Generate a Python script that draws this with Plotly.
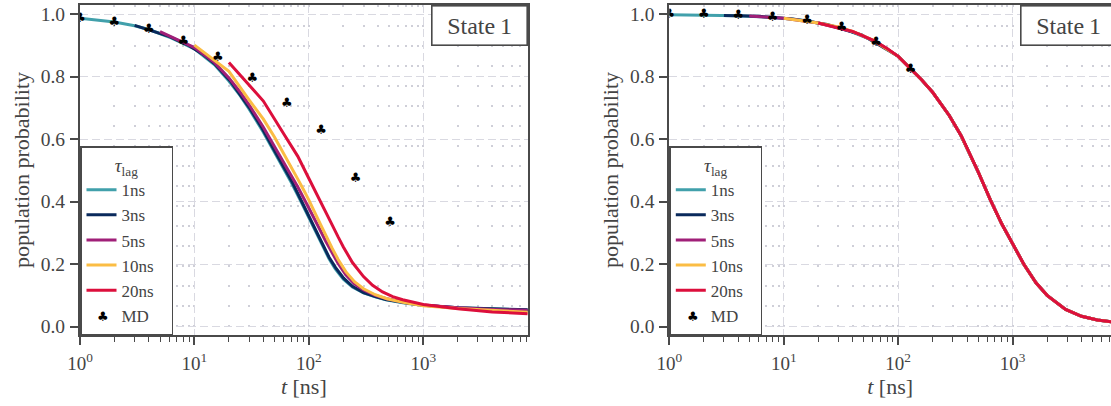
import plotly.graph_objects as go

# ---------------------------------------------------------------------------
# Data: implied population of state 1 for several MSM lag times, plus MD
# ---------------------------------------------------------------------------
LAG_NAMES = ["1ns", "3ns", "5ns", "10ns", "20ns"]
LAG_COLORS = ["#41a0ab", "#0a2a5c", "#a01f78", "#fbbd44", "#dc0f3c"]

# Panel (a)
a_t_1ns = [1, 2, 3, 4, 6, 8, 10, 15, 20, 25, 30, 40, 50, 60, 70, 84, 95, 108, 122,
           135, 150, 170, 200, 240, 300, 380, 470, 700, 1000, 2000, 4000, 8192]
a_p_1ns = [0.987, 0.975, 0.963, 0.951, 0.927, 0.905, 0.889, 0.838, 0.786, 0.740,
           0.697, 0.622, 0.560, 0.508, 0.462, 0.405, 0.365, 0.320, 0.280, 0.248,
           0.217, 0.185, 0.152, 0.127, 0.108, 0.095, 0.086, 0.075, 0.068, 0.060,
           0.056, 0.053]

a_t_3ns = [3, 6, 9, 12, 15, 21, 30, 39, 51, 60, 72, 84, 96, 108, 123, 135, 150, 171,
           201, 240, 300, 381, 471, 702, 1002, 2001, 4002, 8190]
a_p_3ns = [0.964, 0.929, 0.899, 0.870, 0.841, 0.782, 0.702, 0.635, 0.558, 0.513,
           0.460, 0.410, 0.367, 0.326, 0.283, 0.253, 0.222, 0.189, 0.155, 0.129,
           0.109, 0.096, 0.087, 0.076, 0.068, 0.060, 0.056, 0.054]

a_t_5ns = [5, 10, 15, 20, 25, 30, 40, 50, 60, 70, 80, 95, 110, 125, 140, 160, 180,
           210, 250, 300, 380, 480, 700, 1000, 2000, 4000, 8190]
a_p_5ns = [0.944, 0.893, 0.845, 0.796, 0.751, 0.710, 0.638, 0.578, 0.528, 0.485,
           0.447, 0.395, 0.352, 0.310, 0.274, 0.233, 0.202, 0.166, 0.137, 0.117,
           0.100, 0.089, 0.077, 0.069, 0.060, 0.055, 0.052]

a_t_10ns = [10, 20, 30, 40, 50, 60, 70, 80, 90, 100, 120, 140, 160, 180, 210, 250,
            300, 380, 480, 700, 1000, 2000, 4000, 8190]
a_p_10ns = [0.901, 0.817, 0.726, 0.664, 0.607, 0.556, 0.512, 0.472, 0.437, 0.405,
            0.344, 0.292, 0.250, 0.215, 0.176, 0.144, 0.121, 0.102, 0.089, 0.076,
            0.067, 0.058, 0.051, 0.046]

a_t_20ns = [20, 40, 60, 80, 100, 120, 140, 160, 180, 200, 240, 300, 360, 440, 540,
            660, 1000, 2000, 4000, 8180]
a_p_20ns = [0.845, 0.722, 0.618, 0.545, 0.474, 0.418, 0.368, 0.325, 0.287, 0.255,
            0.205, 0.160, 0.132, 0.111, 0.096, 0.086, 0.071, 0.057, 0.047, 0.041]

a_md_t = [1, 2, 4, 8, 16, 32, 64, 128, 256, 512]
a_md_p = [0.987, 0.974, 0.949, 0.912, 0.862, 0.793, 0.712, 0.626, 0.473, 0.331]

# Panel (b): all lag times collapse onto one curve
b_t_1ns = [1, 2, 4, 8, 16, 32, 64, 100, 128, 160, 200, 280, 350, 420, 500, 640, 800,
           1000, 1250, 1600, 2000, 2900, 4000, 5500, 8192]
b_p_1ns = [0.998, 0.997, 0.995, 0.990, 0.979, 0.956, 0.912, 0.865, 0.825, 0.790,
           0.750, 0.675, 0.615, 0.555, 0.495, 0.405, 0.330, 0.265, 0.200, 0.140,
           0.100, 0.055, 0.033, 0.021, 0.013]

b_t_3ns = [3, 6, 12, 24, 48, 99, 129, 159, 201, 279, 351, 420, 501, 639, 801, 999,
           1251, 1599, 2001, 2901, 3999, 5502, 8190]
b_p_3ns = [0.996, 0.993, 0.985, 0.967, 0.934, 0.866, 0.824, 0.791, 0.749, 0.676,
           0.614, 0.555, 0.494, 0.406, 0.329, 0.265, 0.200, 0.140, 0.100, 0.055,
           0.033, 0.021, 0.013]

b_t_5ns = [5, 10, 20, 40, 65, 100, 130, 160, 200, 280, 350, 420, 500, 640, 800, 1000,
           1250, 1600, 2000, 2900, 4000, 5500, 8190]
b_p_5ns = [0.994, 0.987, 0.972, 0.944, 0.911, 0.865, 0.823, 0.790, 0.750, 0.675,
           0.615, 0.555, 0.495, 0.405, 0.330, 0.265, 0.200, 0.140, 0.100, 0.055,
           0.033, 0.021, 0.013]

b_t_10ns = [10, 20, 30, 40, 60, 100, 130, 160, 200, 280, 350, 420, 500, 640, 800,
            1000, 1250, 1600, 2000, 2900, 4000, 5500, 8190]
b_p_10ns = [0.987, 0.972, 0.959, 0.945, 0.917, 0.865, 0.823, 0.790, 0.750, 0.675,
            0.615, 0.555, 0.495, 0.405, 0.330, 0.265, 0.200, 0.140, 0.100, 0.055,
            0.033, 0.021, 0.013]

b_t_20ns = [20, 40, 60, 80, 100, 140, 160, 200, 280, 360, 420, 500, 640, 800, 1000,
            1260, 1600, 2000, 2900, 4000, 5500, 8180]
b_p_20ns = [0.972, 0.945, 0.917, 0.890, 0.865, 0.813, 0.790, 0.750, 0.675, 0.607,
            0.555, 0.495, 0.405, 0.330, 0.265, 0.198, 0.140, 0.100, 0.055, 0.033,
            0.021, 0.013]

b_md_t = [1, 2, 4, 8, 16, 32, 64, 128]
b_md_p = [0.997, 0.997, 0.994, 0.989, 0.978, 0.955, 0.910, 0.821]

X_TICKS = [1, 10, 100, 1000]
X_TICKTEXT = ["10<sup>0</sup>", "10<sup>1</sup>", "10<sup>2</sup>", "10<sup>3</sup>"]
Y_TICKS = [0.0, 0.2, 0.4, 0.6, 0.8, 1.0]

# ---------------------------------------------------------------------------
# Styling
# ---------------------------------------------------------------------------
W, H = 1111, 406
SERIF = "Liberation Serif"
AX = "#4a4a4a"
TXT = "#444444"
GRID = "#d9d9e1"
DOT = "#cfcfd8"
PAD = "\u00a0" * 3  # widens the legend box a little

panels = [
    dict(xa="x", ya="y", legend="legend",
         series=[(a_t_1ns, a_p_1ns), (a_t_3ns, a_p_3ns), (a_t_5ns, a_p_5ns),
                 (a_t_10ns, a_p_10ns), (a_t_20ns, a_p_20ns)],
         md=(a_md_t, a_md_p)),
    dict(xa="x2", ya="y2", legend="legend2",
         series=[(b_t_1ns, b_p_1ns), (b_t_3ns, b_p_3ns), (b_t_5ns, b_p_5ns),
                 (b_t_10ns, b_p_10ns), (b_t_20ns, b_p_20ns)],
         md=(b_md_t, b_md_p)),
]

fig = go.Figure()
for pnl in panels:
    for name, color, (tt, pp) in zip(LAG_NAMES, LAG_COLORS, pnl["series"]):
        fig.add_trace(go.Scatter(
            x=tt, y=pp, mode="lines", name=name + PAD,
            line=dict(color=color, width=3),
            xaxis=pnl["xa"], yaxis=pnl["ya"], legend=pnl["legend"]))
    # MD reference points, drawn as club glyphs
    fig.add_trace(go.Scatter(
        x=pnl["md"][0], y=pnl["md"][1], mode="text", text=["\u2663"] * len(pnl["md"][0]),
        textposition="middle center",
        textfont=dict(family="DejaVu Sans", size=13, color="black"),
        showlegend=False, xaxis=pnl["xa"], yaxis=pnl["ya"]))
    # legend entry for the MD points (glyph added as annotation below)
    fig.add_trace(go.Scatter(
        x=[None], y=[None], mode="markers", name="MD" + PAD,
        marker=dict(color="rgba(0,0,0,0)", size=8),
        xaxis=pnl["xa"], yaxis=pnl["ya"], legend=pnl["legend"]))

px_decade = 114.45
left_x0, right_x0 = 80.0, 669.3
y_dom = [1 - 335 / H, 1 - 5 / H]
y_rng = [-0.0269, 1.0294]


def xaxis_cfg(x0, x1_px, anchor):
    return dict(
        type="log", domain=[x0 / W, min(x1_px, W) / W],
        range=[0, (min(x1_px, W) - x0) / px_decade], anchor=anchor,
        automargin=False,
        showline=True, linecolor=AX, linewidth=2, mirror=True,
        ticks="outside", ticklen=8, tickwidth=1.5, tickcolor=AX,
        tickvals=X_TICKS, ticktext=X_TICKTEXT, ticklabelstandoff=2,
        tickfont=dict(family=SERIF, size=19, color=TXT),
        showgrid=True, gridcolor=GRID, gridwidth=1.3, griddash="8px,4px",
        minor=dict(ticks="outside", ticklen=4.5, tickwidth=1.2, tickcolor=AX,
                   dtick="D1", showgrid=True, gridcolor=DOT, gridwidth=1.6,
                   griddash="1.6px,18.4px"),
        zeroline=False,
        title=dict(text="<i>t</i> [ns]", font=dict(family=SERIF, size=22, color=TXT),
                   standoff=5),
    )


def yaxis_cfg(anchor, mirror):
    return dict(
        domain=y_dom, range=y_rng, anchor=anchor, automargin=False,
        showline=True, linecolor=AX, linewidth=2, mirror=mirror,
        ticks="outside", ticklen=8, tickwidth=1.5, tickcolor=AX,
        tickvals=Y_TICKS, tickformat=".1f", ticklabelstandoff=1,
        tickfont=dict(family=SERIF, size=19.5, color=TXT),
        showgrid=True, gridcolor=GRID, gridwidth=1.3, griddash="8px,4px",
        zeroline=False,
        title=dict(text="population probability",
                   font=dict(family=SERIF, size=22, color=TXT), standoff=5),
    )


def legend_cfg(x0):
    return dict(
        x=x0 / W, y=y_dom[0], xanchor="left", yanchor="bottom",
        bgcolor="white", bordercolor=AX, borderwidth=1.5,
        font=dict(family=SERIF, size=17, color=TXT),
        title=dict(text="<i>\u03c4</i><sub>lag</sub>", side="top center",
                   font=dict(family=SERIF, size=19, color=TXT)),
        itemwidth=30, tracegroupgap=0,
    )


annotations = []
for x_right in (left_x0 + 447.7, right_x0 + 447.7):
    annotations.append(dict(
        text="State\u20091", xref="paper", yref="paper",
        x=x_right / W, y=y_dom[1], xanchor="right", yanchor="top",
        showarrow=False, width=92, height=36, borderpad=1,
        bordercolor=AX, borderwidth=1.6, bgcolor="white",
        font=dict(family=SERIF, size=24, color=TXT)))
for x_sym in (103.0, 693.0):
    annotations.append(dict(
        text="\u2663", xref="paper", yref="paper", x=x_sym / W, y=1 - 316.5 / H,
        xanchor="center", yanchor="middle", showarrow=False,
        font=dict(family="DejaVu Sans", size=13, color="black")))

fig.update_layout(
    width=W, height=H, margin=dict(l=0, r=0, t=0, b=0, autoexpand=False),
    paper_bgcolor="white", plot_bgcolor="white",
    xaxis=xaxis_cfg(left_x0, left_x0 + 447.7, "y"),
    yaxis=yaxis_cfg("x", True),
    xaxis2=xaxis_cfg(right_x0, right_x0 + 447.7, "y2"),
    yaxis2=yaxis_cfg("x2", False),
    legend=legend_cfg(left_x0),
    legend2=legend_cfg(right_x0),
    annotations=annotations,
    showlegend=True,
)

fig.write_html("out.html")
